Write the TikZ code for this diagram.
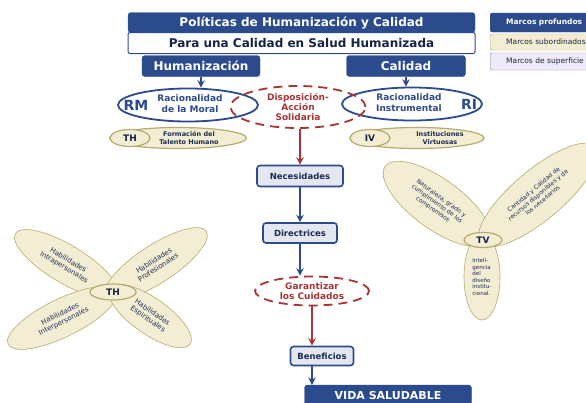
\documentclass[tikz,border=0pt]{standalone}
\usepackage{fontspec}
\setmainfont{DejaVu Sans}
\usepackage{xcolor}
\usetikzlibrary{arrows.meta,positioning,shapes.geometric}
\definecolor{deepblue}{HTML}{2C4B8C}
\definecolor{darkred}{HTML}{A83434}
\definecolor{softlav}{HTML}{E4E6F0}
\definecolor{beige}{HTML}{F3EDD3}
\definecolor{oliveline}{HTML}{B5AB6C}
\definecolor{lilac}{HTML}{EFEAF7}
\definecolor{purpleline}{HTML}{9483BA}
\tikzset{
  deep/.style={draw=deepblue, fill=deepblue, rounded corners=3pt, text=white, align=center, inner sep=2pt, font=\bfseries\fontsize{12}{13}\selectfont},
  framebox/.style={draw=deepblue, fill=white, line width=1pt, rounded corners=2pt, text=deepblue!50!black, align=center, inner sep=2pt, font=\bfseries\fontsize{12}{13}\selectfont},
  legendbox/.style={anchor=west, rounded corners=2pt, minimum width=110pt, minimum height=15pt, text width=90pt, inner xsep=16pt, align=left, font=\fontsize{7.5}{8}\selectfont},
  stepbox/.style={draw=deepblue, fill=softlav, line width=1.6pt, rounded corners=3pt, align=center, inner sep=2pt, text=deepblue!60!black, font=\bfseries\fontsize{8.5}{10}\selectfont},
  ovalblue/.style={ellipse, draw=deepblue, line width=1.8pt, fill=white, inner sep=0pt},
  ovalred/.style={ellipse, draw=darkred, line width=1.8pt, dash pattern=on 9pt off 6pt, inner sep=0pt, align=center, text=darkred, font=\bfseries\fontsize{9}{10}\selectfont},
  petal/.style={ellipse, draw=oliveline, fill=beige, line width=0.6pt, inner sep=0pt, align=center, text=deepblue!60!black, font=\fontsize{7}{8}\selectfont},
  tag/.style={ellipse, draw=oliveline, fill=beige, line width=1.2pt, inner sep=0pt, text=deepblue!50!black, font=\bfseries\fontsize{9}{10}\selectfont},
  bluearrow/.style={-{Stealth[length=2.6mm, width=2.6mm]}, line width=1.8pt, draw=deepblue},
  redarrow/.style={-{Stealth[length=2.6mm, width=2.6mm]}, line width=1.8pt, draw=darkred}
}
\begin{document}
\begin{tikzpicture}[x=1pt, y=-1pt]
  \useasboundingbox (0,0) rectangle (586,402);
  \clip (0,0) rectangle (586,402);

  % titles
  \node[framebox, minimum width=347pt, minimum height=21pt] (para) at (301.5,43) {Para una Calidad en Salud Humanizada};
  \node[deep, minimum width=347pt, minimum height=20pt] (title) at (301.5,22.5) {Políticas de Humanización y Calidad};
  \node[deep, minimum width=118pt, minimum height=21pt] (human) at (201,66) {Humanización};
  \node[deep, minimum width=119pt, minimum height=21pt] (calidad) at (406,66) {Calidad};

  % legend
  \node[legendbox, draw=deepblue, fill=deepblue, text=white, font=\bfseries\fontsize{7.5}{8}\selectfont, minimum height=19pt] (lprof) at (490,22.5) {Marcos profundos};
  \node[legendbox, draw=oliveline, fill=beige, text=deepblue!50!black, minimum height=16pt] (lsub) at (490,42) {Marcos subordinados};
  \node[legendbox, draw=purpleline, fill=lilac, text=deepblue!50!black, minimum height=17pt] (lsup) at (490,61.5) {Marcos de superficie};

  % racionalidades
  \node[ovalblue, minimum width=140pt, minimum height=33pt] (rm) at (188,105) {};
  \node[font=\bfseries\fontsize{14}{15}\selectfont, text=deepblue] (rmtag) at (136,105) {RM};
  \node[font=\bfseries\fontsize{9}{11}\selectfont, text=deepblue, align=center] (rmtext) at (190,104) {Racionalidad\\de la Moral};
  \node[ovalblue, minimum width=140pt, minimum height=33pt] (ri) at (412,104) {};
  \node[font=\bfseries\fontsize{14}{15}\selectfont, text=deepblue] (ritag) at (469,104) {RI};
  \node[font=\bfseries\fontsize{9}{11}\selectfont, text=deepblue, align=center] (ritext) at (409,103) {Racionalidad\\Instrumental};
  \node[ovalred, minimum width=135pt, minimum height=42pt] (disp) at (298,107) {Disposición-\\Acción\\Solidaria};

  % marcos subordinados
  \node[petal, minimum width=137pt, minimum height=21pt, line width=1.2pt] (thbar) at (178,138) {};
  \node[tag, minimum width=40pt, minimum height=17pt] (thtag) at (130,138) {TH};
  \node[font=\bfseries\fontsize{6.5}{7.5}\selectfont, text=deepblue!60!black, align=center] (thtext) at (189,138) {Formación del\\Talento Humano};
  \node[petal, minimum width=134pt, minimum height=21pt, line width=1.2pt] (ivbar) at (417,138) {};
  \node[tag, minimum width=40pt, minimum height=17pt] (ivtag) at (370,138) {IV};
  \node[font=\bfseries\fontsize{6.5}{7.5}\selectfont, text=deepblue!60!black, align=center] (ivtext) at (440,138) {Instituciones\\Virtuosas};

  % cadena central
  \node[stepbox, minimum width=86pt, minimum height=21pt] (nec) at (300,176) {Necesidades};
  \node[stepbox, minimum width=74pt, minimum height=20pt] (dir) at (300,233) {Directrices};
  \node[ovalred, minimum width=114pt, minimum height=29pt] (gar) at (312,291) {Garantizar\\los Cuidados};
  \node[stepbox, minimum width=63pt, minimum height=19pt] (ben) at (322,356) {Beneficios};
  \node[deep, minimum width=167pt, minimum height=20pt, font=\bfseries\fontsize{11}{12}\selectfont] (vida) at (388,395) {VIDA SALUDABLE};

  \draw[bluearrow] (human.south) -- (human.south |- rm.north);
  \draw[bluearrow] (calidad.south) -- (calidad.south |- ri.north);
  \draw[redarrow] (nec.north |- disp.south) -- (nec.north);
  \draw[bluearrow] (nec) -- (dir);
  \draw[bluearrow] (dir.south) -- (dir.south |- gar.north);
  \draw[redarrow] (gar.south) -- (gar.south |- ben.north);
  \draw[bluearrow] (ben.south -| gar.south) -- (gar.south |- vida.north);

  % flor TH
  \node[petal, rotate=-31, minimum width=118pt, minimum height=38pt] (thul) at (66,264) {Habilidades\\Intrapersonales};
  \node[petal, rotate=33, minimum width=120pt, minimum height=38pt] (thur) at (156,264) {Habilidades\\Profesionales};
  \node[petal, rotate=26, minimum width=120pt, minimum height=38pt] (thll) at (62,318) {Habilidades\\Interpersonales};
  \node[petal, rotate=-35, minimum width=98pt, minimum height=36pt] (thlr) at (150,316) {Habilidades\\Espirituales};
  \node[tag, minimum width=46pt, minimum height=16pt] (thc) at (113,292) {TH};

  % flor TV
  \node[petal, rotate=-36, minimum width=128pt, minimum height=50pt, font=\fontsize{6}{7}\selectfont] (tvl) at (437,204) {Naturaleza, grado y\\cumplimiento de los\\compromisos};
  \node[petal, rotate=40, minimum width=150pt, minimum height=50pt, font=\fontsize{6}{7}\selectfont] (tvr) at (538,195) {Cantidad y Calidad de\\recursos disponibles y de\\los necesarios};
  \node[petal, minimum width=36pt, minimum height=86pt, align=left, font=\fontsize{5.5}{6.5}\selectfont] (tvb) at (482,277) {Inteli-\\gencia\\del\\diseño\\institu-\\cional.};
  \node[tag, minimum width=38pt, minimum height=15pt] (tvc) at (483,240) {TV};
\end{tikzpicture}
\end{document}
